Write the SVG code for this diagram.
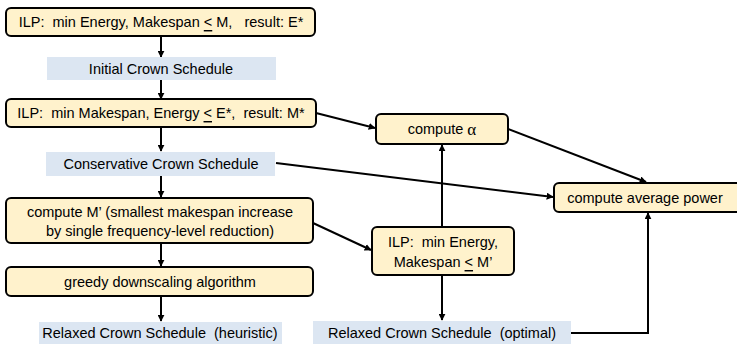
<svg xmlns="http://www.w3.org/2000/svg" width="737" height="344" viewBox="0 0 737 344">
<defs>
<marker id="ah" viewBox="0 0 10 10" refX="9" refY="5" markerWidth="7" markerHeight="7" orient="auto-start-reverse" markerUnits="userSpaceOnUse">
<path d="M0,0 L10,5 L0,10 z" fill="#000"/>
</marker>
</defs>
<style>
.box{fill:#FFF2CC;stroke:#000;stroke-width:2}
.lab{fill:#DCE6F2}
text{font-family:"Liberation Sans",Arial,sans-serif;font-size:14.5px;fill:#000;text-anchor:middle;dominant-baseline:central;white-space:pre}
.g{font-family:"Liberation Serif","Times New Roman",serif;font-size:17px}
.c line,.c path{stroke:#000;stroke-width:2;fill:none;marker-end:url(#ah)}
</style>
<rect width="737" height="344" fill="#fff"/>
<g class="c" id="connectors">
<line x1="161" y1="37" x2="161" y2="57"/>
<line x1="161" y1="80" x2="161" y2="99"/>
<line x1="161" y1="128" x2="161" y2="151"/>
<line x1="161" y1="176" x2="161" y2="197"/>
<line x1="161" y1="244" x2="161" y2="266"/>
<line x1="161" y1="297" x2="161" y2="321"/>
<line x1="316" y1="113" x2="375" y2="128"/>
<line x1="276" y1="163" x2="553" y2="197"/>
<line x1="508" y1="129" x2="646" y2="182"/>
<line x1="313" y1="223" x2="371" y2="250"/>
<line x1="442" y1="227" x2="442" y2="145"/>
<line x1="442" y1="275" x2="442" y2="320"/>
<path d="M571,333 H648 V213"/>
</g>
<g id="n1"><rect class="box" x="6" y="8" width="309" height="28" rx="5"/><text x="161" y="22" xml:space="preserve">ILP:  min Energy, Makespan <tspan text-decoration="underline">&lt;</tspan> M,   result: E*</text></g>
<g id="n2"><rect class="lab" x="47" y="57" width="229" height="23"/><text x="161" y="68.5">Initial Crown Schedule</text></g>
<g id="n3"><rect class="box" x="6" y="99" width="310" height="28" rx="5"/><text x="161" y="113" xml:space="preserve">ILP:  min Makespan, Energy <tspan text-decoration="underline">&lt;</tspan> E*,  result: M*</text></g>
<g id="n4"><rect class="lab" x="46" y="152" width="229" height="24"/><text x="161" y="164">Conservative Crown Schedule</text></g>
<g id="n5"><rect class="box" x="6" y="198" width="307" height="45" rx="5"/><text x="160" y="212">compute M’ (smallest makespan increase</text><text x="160" y="231">by single frequency-level reduction)</text></g>
<g id="n6"><rect class="box" x="6" y="267" width="307" height="29" rx="5"/><text x="160" y="281.5">greedy downscaling algorithm</text></g>
<g id="n7"><rect class="lab" x="39" y="322" width="243" height="22"/><text x="160" y="333" xml:space="preserve">Relaxed Crown Schedule  (heuristic)</text></g>
<g id="n8"><rect class="box" x="376" y="114" width="132" height="30" rx="5"/><text x="442" y="129">compute <tspan class="g">α</tspan></text></g>
<g id="n9"><rect class="box" x="554" y="183" width="190" height="29" rx="5"/><text x="645" y="197.5">compute average power</text></g>
<g id="n10"><rect class="box" x="372" y="227" width="142" height="48" rx="5"/><text x="443" y="242" xml:space="preserve">ILP:  min Energy,</text><text x="443" y="262">Makespan <tspan text-decoration="underline">&lt;</tspan> M’</text></g>
<g id="n11"><rect class="lab" x="313" y="321" width="258" height="23"/><text x="442" y="333" xml:space="preserve">Relaxed Crown Schedule  (optimal)</text></g>
</svg>
